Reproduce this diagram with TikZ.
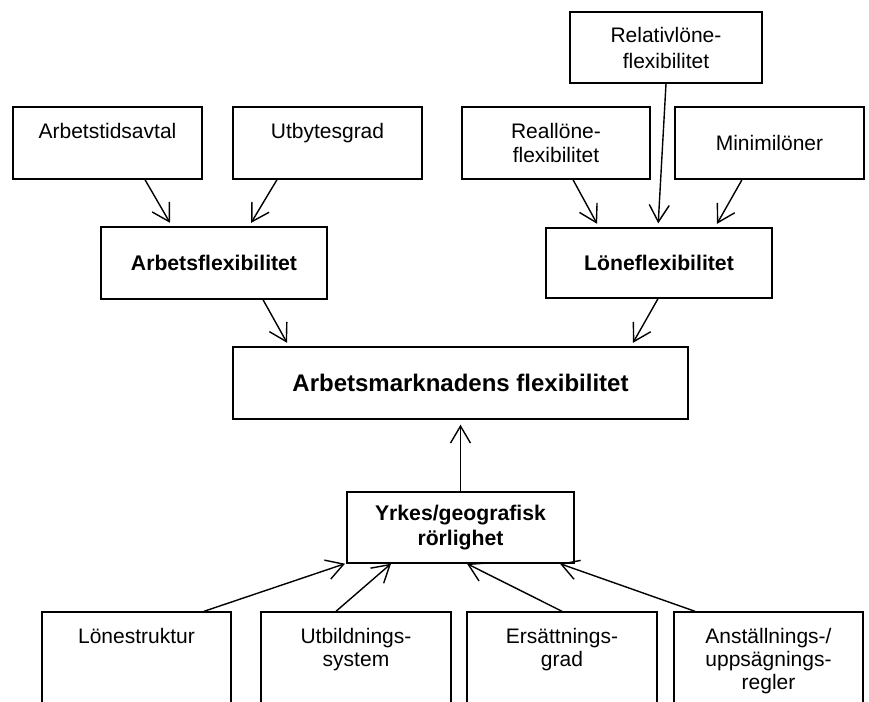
\documentclass[tikz,border=0pt]{standalone}
\usepackage{fontspec}
\setmainfont{Liberation Sans}
\usetikzlibrary{arrows.meta}

% text i rutor, flera rader, baslinje på första raden
\newcommand{\rader}[1]{\begin{tabular}[t]{@{}c@{}}#1\end{tabular}}

\tikzset{
  ruta/.style={draw, line width=0.7pt, align=center, inner sep=0pt,
    minimum height=36pt, font=\fontsize{10.5}{12}\selectfont},
  toppruta/.style={text height=15.5pt, text depth=20.5pt},
  bottenruta/.style={text height=15.5pt, text depth=54.5pt,
    font=\fontsize{10.5}{11.5}\selectfont},
  fet/.style={font=\fontsize{10.6}{12.5}\selectfont\bfseries},
  pil/.style={-{Straight Barb[length=8.5pt,width=10pt]}, line width=0.7pt},
}

\begin{document}
\begin{tikzpicture}[x=0.5pt,y=-0.5pt]
\useasboundingbox (0,0) rectangle (869,702);
\clip (0,0) rectangle (869,702);

% översta rutorna
\node[ruta, toppruta, minimum width=94.5pt] (tid) at (107.5,143) {\rader{Arbetstidsavtal}};
\node[ruta, toppruta, minimum width=94.5pt] (utb) at (327.5,143) {\rader{Utbytesgrad}};
\node[ruta, minimum width=96pt, minimum height=35.5pt, font=\fontsize{10.5}{13}\selectfont] (rel) at (666,47.5) {Relativlöne-\\flexibilitet};
\node[ruta, minimum width=94pt] (real) at (556,143) {Reallöne-\\flexibilitet};
\node[ruta, minimum width=94.5pt] (mini) at (769.5,143) {Minimilöner};

% mellanrutor
\node[ruta, fet, minimum width=113pt] (arbflex) at (214,263) {Arbetsflexibilitet};
\node[ruta, fet, minimum width=113pt, minimum height=35pt] (loneflex) at (659,263) {Löneflexibilitet};
\node[ruta, minimum width=227.5pt, font=\fontsize{12}{14}\selectfont\bfseries] (arbmark) at (460.5,383) {Arbetsmarknadens flexibilitet};
\node[ruta, fet, minimum width=113.5pt, minimum height=35.5pt] (rorlig) at (460.5,527.5) {Yrkes/geografisk\\rörlighet};

% nedersta rutorna
\node[ruta, bottenruta, minimum width=94.5pt] (struktur) at (136.5,682) {\rader{Lönestruktur}};
\node[ruta, bottenruta, minimum width=95pt] (utbild) at (356,682) {\rader{Utbildnings-\\system}};
\node[ruta, bottenruta, minimum width=95pt] (ersatt) at (562,682) {\rader{Ersättnings-\\grad}};
\node[ruta, bottenruta, minimum width=94.5pt] (anst) at (768.5,682) {\rader{Anställnings-/\\uppsägnings-\\regler}};

% pilar uppifrån
\draw[pil, shorten >=2pt] ([xshift=18.75pt]tid.south) -- ([xshift=-21pt]arbflex.north);
\draw[pil, shorten >=2pt] ([xshift=-25.25pt]utb.south) -- ([xshift=17.5pt]arbflex.north);
\draw[pil, shorten >=2pt] ([xshift=8.5pt]real.south) -- ([xshift=-30pt]loneflex.north);
\draw[pil, shorten >=2pt] (rel.south) -- ([xshift=-0.5pt]loneflex.north);
\draw[pil, shorten >=2pt] ([xshift=-13.75pt]mini.south) -- ([xshift=28pt]loneflex.north);
\draw[pil, shorten >=2pt] ([xshift=24.5pt]arbflex.south) -- ([xshift=-85.75pt]arbmark.north);
\draw[pil, shorten >=2pt] ([xshift=-0.5pt]loneflex.south) -- ([xshift=85.25pt]arbmark.north);

% pilar underifrån
\draw[pil, shorten >=2.5pt] (rorlig.north) -- (arbmark.south);
\draw[pil] ([xshift=33.75pt]struktur.north) -- ([xshift=-57.75pt]rorlig.south);
\draw[pil] ([xshift=-10pt]utbild.north) -- ([xshift=-34.75pt]rorlig.south);
\draw[pil] (ersatt.north) -- ([xshift=3.25pt]rorlig.south);
\draw[pil] ([xshift=-36.75pt]anst.north) -- ([xshift=49.75pt]rorlig.south);
\end{tikzpicture}
\end{document}
